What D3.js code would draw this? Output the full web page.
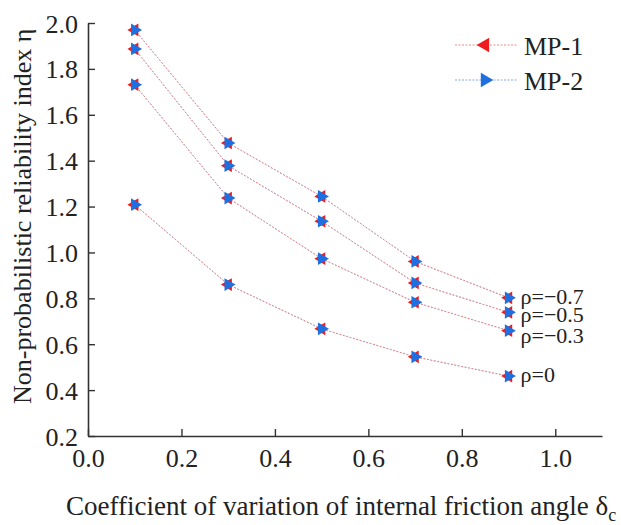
<!DOCTYPE html>
<html>
<head>
<meta charset="utf-8">
<script src="https://cdn.jsdelivr.net/npm/d3@7"></script>
<style>
  body { margin: 0; background: #fff; }
</style>
</head>
<body>
<div id="chart"></div>
<script>
// coefficient of variation of internal friction angle
var deltas = [0.1, 0.3, 0.5, 0.7, 0.9];
var rhoLabels = ["\u03c1=\u22120.7", "\u03c1=\u22120.5", "\u03c1=\u22120.3", "\u03c1=0"];

// MP-1 values, one row per rho
var mp1 = [
  [1.970, 1.477, 1.244, 0.961, 0.802],
  [1.887, 1.378, 1.136, 0.867, 0.739],
  [1.731, 1.237, 0.973, 0.783, 0.659],
  [1.208, 0.860, 0.667, 0.545, 0.461]
];
// MP-2 values
var mp2 = [
  [1.970, 1.477, 1.244, 0.961, 0.802],
  [1.887, 1.378, 1.136, 0.867, 0.739],
  [1.731, 1.237, 0.973, 0.783, 0.659],
  [1.208, 0.860, 0.667, 0.545, 0.461]
];

var xTicks = [0.0, 0.2, 0.4, 0.6, 0.8, 1.0];
var yTicks = [0.2, 0.4, 0.6, 0.8, 1.0, 1.2, 1.4, 1.6, 1.8, 2.0];

var serif = "Liberation Serif";
var width = 621, height = 525;
var margin = { top: 23, right: 19, bottom: 89, left: 88 };
var labelDy = [6, 10, 12, 6];

var svg = d3.select("#chart").append("svg")
  .attr("width", width)
  .attr("height", height);

var x = d3.scaleLinear().domain([0, 1.1]).range([margin.left, width - margin.right]);
var y = d3.scaleLinear().domain([0.2, 2.0]).range([height - margin.bottom, margin.top]);

// axes, ticks pointing inward
var xAxis = d3.axisBottom(x).tickValues(xTicks).tickFormat(d3.format(".1f"))
  .tickSizeInner(-7).tickSizeOuter(0).tickPadding(13);
var yAxis = d3.axisLeft(y).tickValues(yTicks).tickFormat(d3.format(".1f"))
  .tickSizeInner(-7).tickSizeOuter(0).tickPadding(10);

var gx = svg.append("g")
  .attr("transform", "translate(0," + (height - margin.bottom) + ")")
  .call(xAxis);
var gy = svg.append("g")
  .attr("transform", "translate(" + margin.left + ",0)")
  .call(yAxis);

[gx, gy].forEach(function(g) {
  g.attr("font-family", null).attr("font-size", null);
  g.select(".domain").attr("stroke", "#333").attr("stroke-width", 1.6);
  g.selectAll(".tick line").attr("stroke", "#333").attr("stroke-width", 1.4);
  g.selectAll(".tick text")
    .attr("font-family", serif)
    .attr("font-size", 26)
    .attr("fill", "#222");
});
gx.selectAll(".tick text").attr("dy", "0.71em");
gy.selectAll(".tick text").attr("dy", "0.35em");

// axis titles
svg.append("text")
  .attr("x", 66)
  .attr("y", 515)
  .attr("font-family", serif)
  .attr("font-size", 27)
  .attr("fill", "#222")
  .text("Coefficient of variation of internal friction angle \u03b4")
  .append("tspan")
  .attr("dy", 6)
  .attr("font-size", 18)
  .text("c");

svg.append("text")
  .attr("transform", "translate(31," + 404 + ") rotate(-90)")
  .attr("font-family", serif)
  .attr("font-size", 26)
  .attr("fill", "#222")
  .text("Non-probabilistic reliability index \u03b7");

var line = d3.line()
  .x(function(d, i) { return x(deltas[i]); })
  .y(function(d) { return y(d); });

var triRight = d3.symbol().type(d3.symbolTriangle).size(70);

// MP-2 lines (blue, under)
svg.append("g").selectAll("path")
  .data(mp2).enter().append("path")
  .attr("d", line)
  .attr("fill", "none")
  .attr("stroke", "#7fa8e8")
  .attr("stroke-width", 0.8)
  .attr("stroke-dasharray", "1.5,2");

// MP-1 lines (red dotted)
svg.append("g").selectAll("path")
  .data(mp1).enter().append("path")
  .attr("d", line)
  .attr("fill", "none")
  .attr("stroke", "#e78a8a")
  .attr("stroke-width", 1)
  .attr("stroke-dasharray", "2,1.5");

function markers(data, color, angle) {
  var pts = [];
  data.forEach(function(row) {
    row.forEach(function(v, i) { pts.push([deltas[i], v]); });
  });
  svg.append("g").selectAll("path")
    .data(pts).enter().append("path")
    .attr("d", triRight)
    .attr("transform", function(d) {
      return "translate(" + x(d[0]) + "," + y(d[1]) + ") rotate(" + angle + ")";
    })
    .attr("fill", color);
}
markers(mp1, "#ee1c1c", -90);
markers(mp2, "#1f6fe0", 90);

// rho labels at the last point
svg.append("g").selectAll("text")
  .data(rhoLabels).enter().append("text")
  .attr("x", x(deltas[4]) + 12)
  .attr("y", function(d, i) { return y(mp1[i][4]) + labelDy[i]; })
  .attr("font-family", serif)
  .attr("font-size", 22)
  .attr("fill", "#222")
  .text(function(d) { return d; });

// legend
var legend = [
  { name: "MP-1", color: "#ee1c1c", line: "#e78a8a", angle: -90, y: 45 },
  { name: "MP-2", color: "#1f6fe0", line: "#7fa8e8", angle: 90, y: 80 }
];
var lg = svg.append("g").selectAll("g").data(legend).enter().append("g");
lg.append("line")
  .attr("x1", 455).attr("x2", 517)
  .attr("y1", function(d) { return d.y; })
  .attr("y2", function(d) { return d.y; })
  .attr("stroke", function(d) { return d.line; })
  .attr("stroke-width", 1)
  .attr("stroke-dasharray", "2,1.5");
lg.append("path")
  .attr("d", d3.symbol().type(d3.symbolTriangle).size(90))
  .attr("transform", function(d) { return "translate(485," + d.y + ") rotate(" + d.angle + ")"; })
  .attr("fill", function(d) { return d.color; });
lg.append("text")
  .attr("x", 524)
  .attr("y", function(d) { return d.y + 10; })
  .attr("font-family", serif)
  .attr("font-size", 26)
  .attr("fill", "#222")
  .text(function(d) { return d.name; });
</script>
</body>
</html>
